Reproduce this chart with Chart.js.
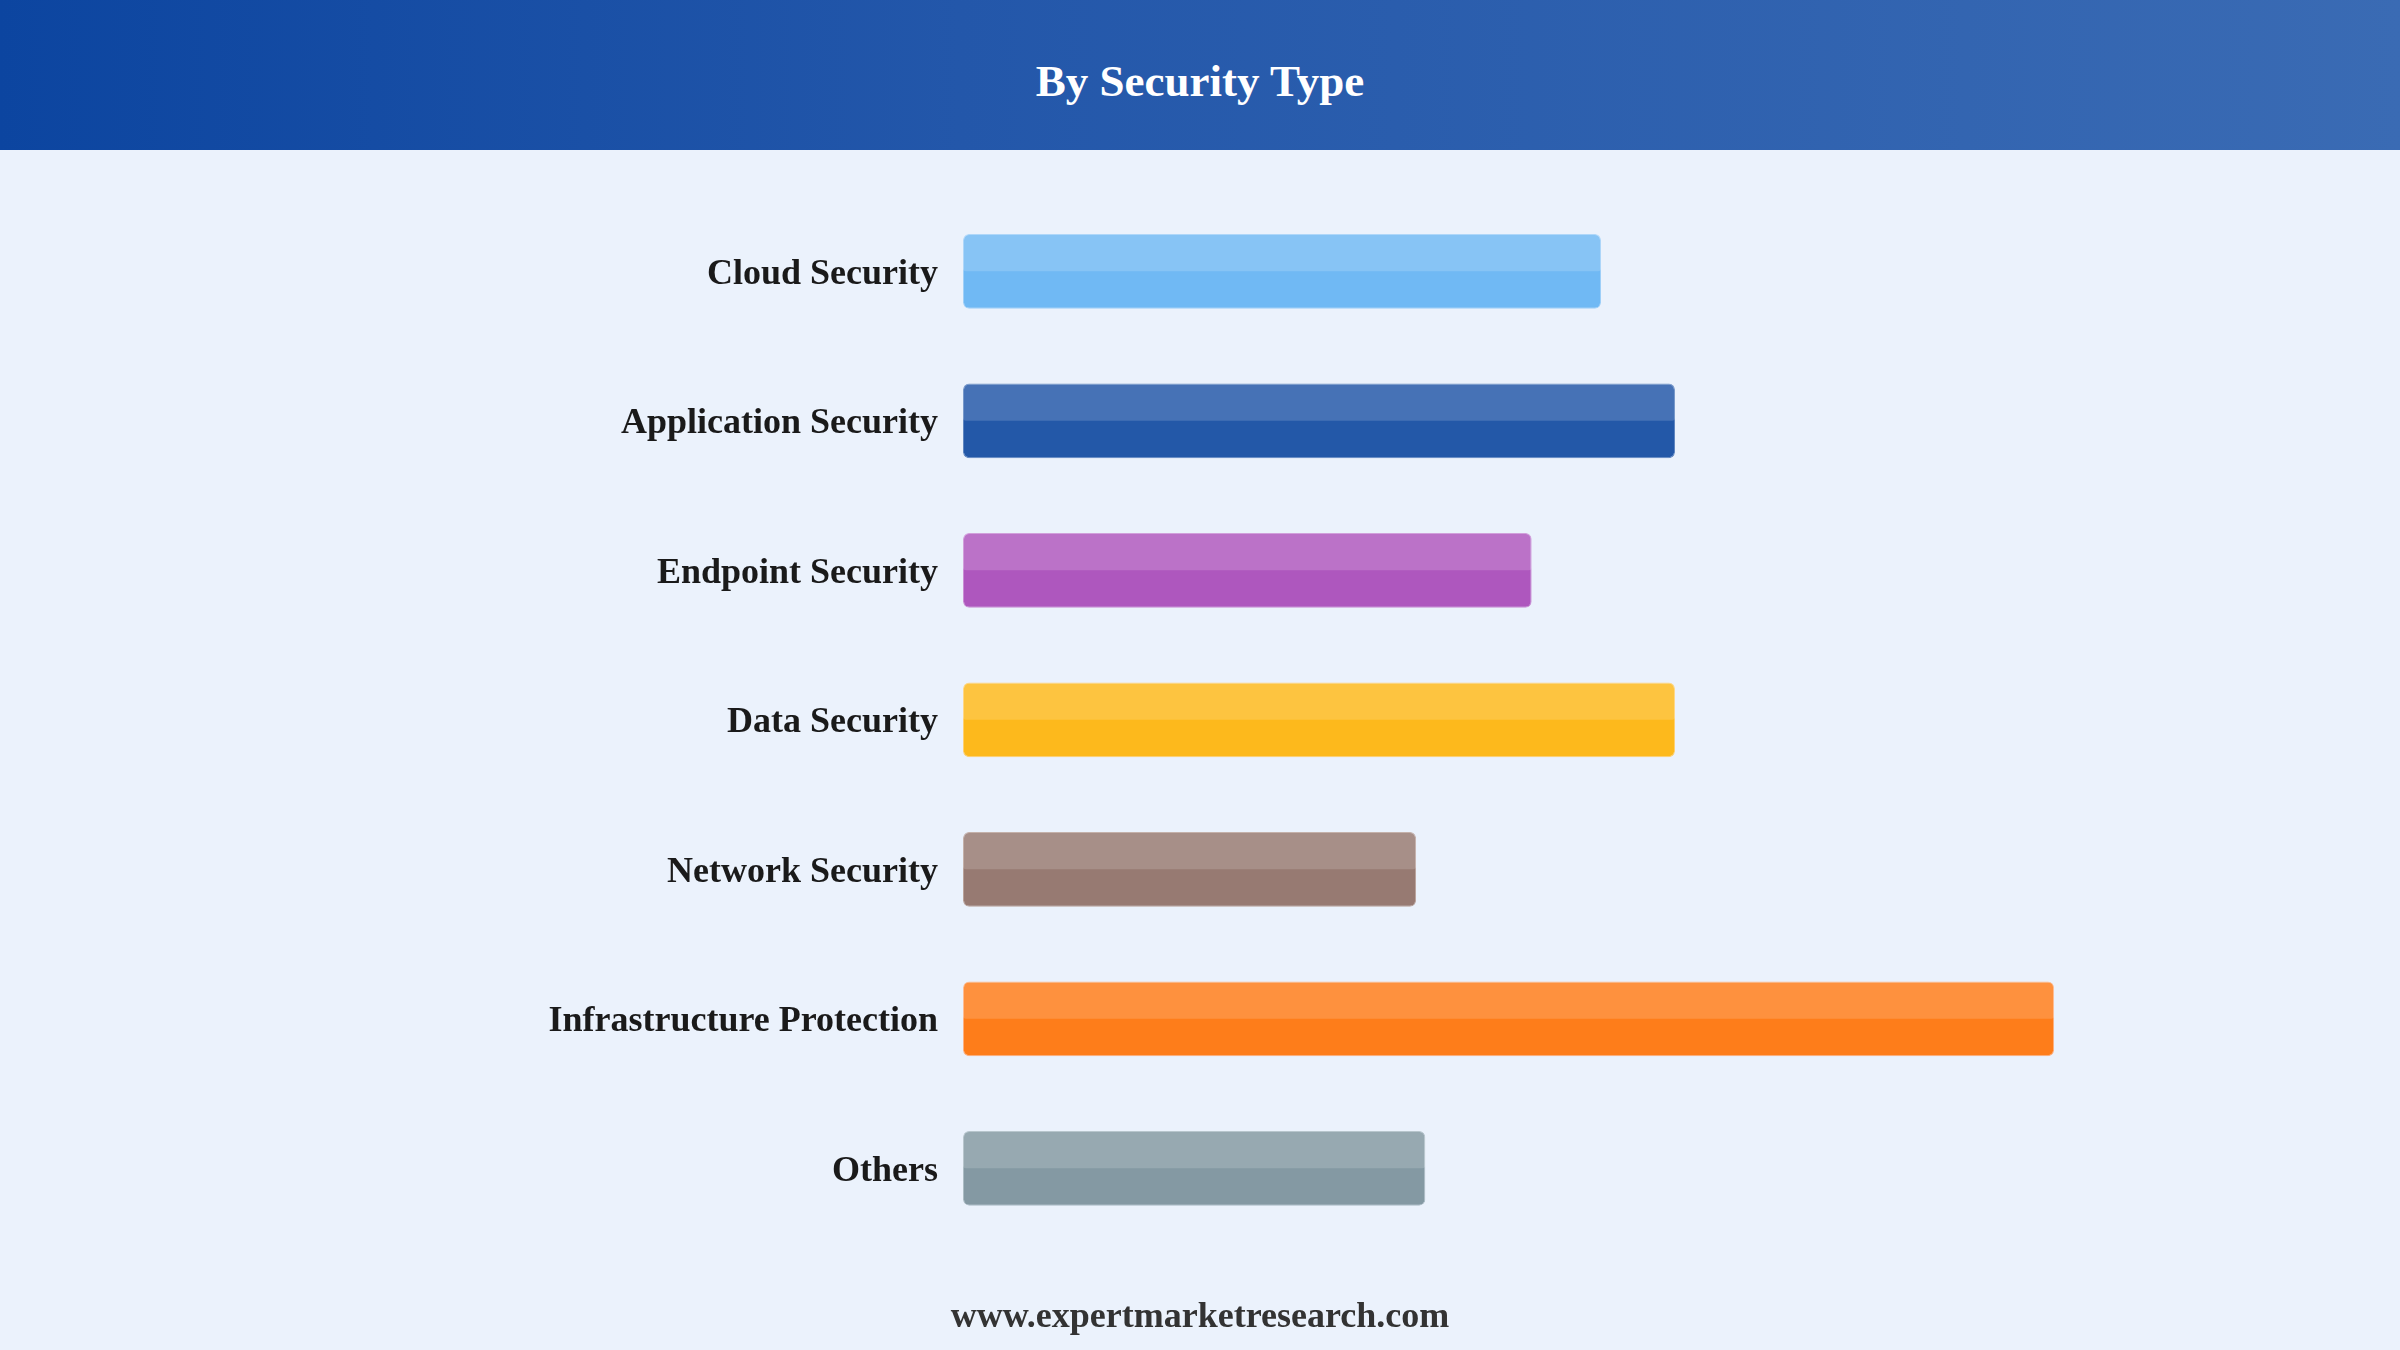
<!DOCTYPE html>
<html>
<head>
<meta charset="utf-8">
<script src="https://cdn.jsdelivr.net/npm/chart.js@4.4.1/dist/chart.umd.min.js"></script>
<style>
  html, body { margin: 0; padding: 0; width: 2400px; height: 1350px; background: #EBF2FC; overflow: hidden; }
  #header { position: absolute; left: 0; top: 0; width: 2400px; height: 150px;
    background: linear-gradient(90deg, #0C45A0 0%, #2357AA 40%, #3A6BB4 100%);
    display: flex; align-items: center; justify-content: center; }
  #header h1 { margin: 0; color: #fff; font-family: 'Liberation Serif', 'Times New Roman', serif; font-weight: bold; font-size: 45px; padding-top: 12px; }
  #wrap { position: absolute; left: 0; top: 150px; width: 2400px; height: 1200px; }
  #footer { position: absolute; left: 0; width: 2400px; top: 1294px; text-align: center;
    font-family: 'Liberation Serif', 'Times New Roman', serif; font-weight: bold; font-size: 36px; color: #333; }
</style>
</head>
<body>
<div id="header"><h1>By Security Type</h1></div>
<div id="wrap"><canvas id="c"></canvas></div>
<div id="footer">www.expertmarketresearch.com</div>
<script>
const categories = ["Cloud Security", "Application Security", "Endpoint Security", "Data Security", "Network Security", "Infrastructure Protection", "Others"];
const values = [13.8, 15.4, 12.3, 15.4, 9.8, 23.6, 10.0];
const barColors = ["#70B9F4", "#2358A8", "#AE57BE", "#FDB91C", "#977A72", "#FE7D1A", "#8499A3"];
const edgeColors = ["#A0D0F8", "#5F86C0", "#C98ED4", "#FED070", "#B9A29A", "#FDB080", "#ABBCC4"];

const highlight = {
  id: 'highlight',
  afterDatasetsDraw(chart) {
    const ctx = chart.ctx;
    const meta = chart.getDatasetMeta(0);
    ctx.save();
    meta.data.forEach((bar) => {
      const p = bar.getProps(['x', 'y', 'base', 'height'], true);
      const left = p.base, right = p.x;
      const top = p.y - p.height / 2;
      const h = p.height / 2;
      const r = 6;
      ctx.fillStyle = 'rgba(255,255,255,0.16)';
      ctx.beginPath();
      ctx.roundRect(left, top, right - left, h, [r, r, 3, 3]);
      ctx.fill();
    });
    ctx.restore();
  }
};

new Chart(document.getElementById('c'), {
  type: 'bar',
  data: {
    labels: categories,
    datasets: [{
      data: values,
      backgroundColor: barColors,
      borderColor: edgeColors,
      borderWidth: 1,
      borderSkipped: false,
      borderRadius: 6,
      barPercentage: 0.5,
      categoryPercentage: 1.0
    }]
  },
  options: {
    indexAxis: 'y',
    responsive: true,
    maintainAspectRatio: false,
    animation: false,
    layout: { padding: { top: 43, bottom: 107, left: 0, right: 50 } },
    plugins: { legend: { display: false }, tooltip: { enabled: false }, title: { display: false } },
    scales: {
      x: { min: 0, max: 30, display: false },
      y: {
        grid: { display: false, drawTicks: false },
        border: { display: false },
        ticks: {
          padding: 25,
          labelOffset: 3,
          color: '#1a1a1a',
          font: { family: "'Liberation Serif', 'Times New Roman', serif", weight: 'bold', size: 36 }
        },
        afterFit(scale) { scale.width = 963; }
      }
    }
  },
  plugins: [highlight]
});
</script>
</body>
</html>
